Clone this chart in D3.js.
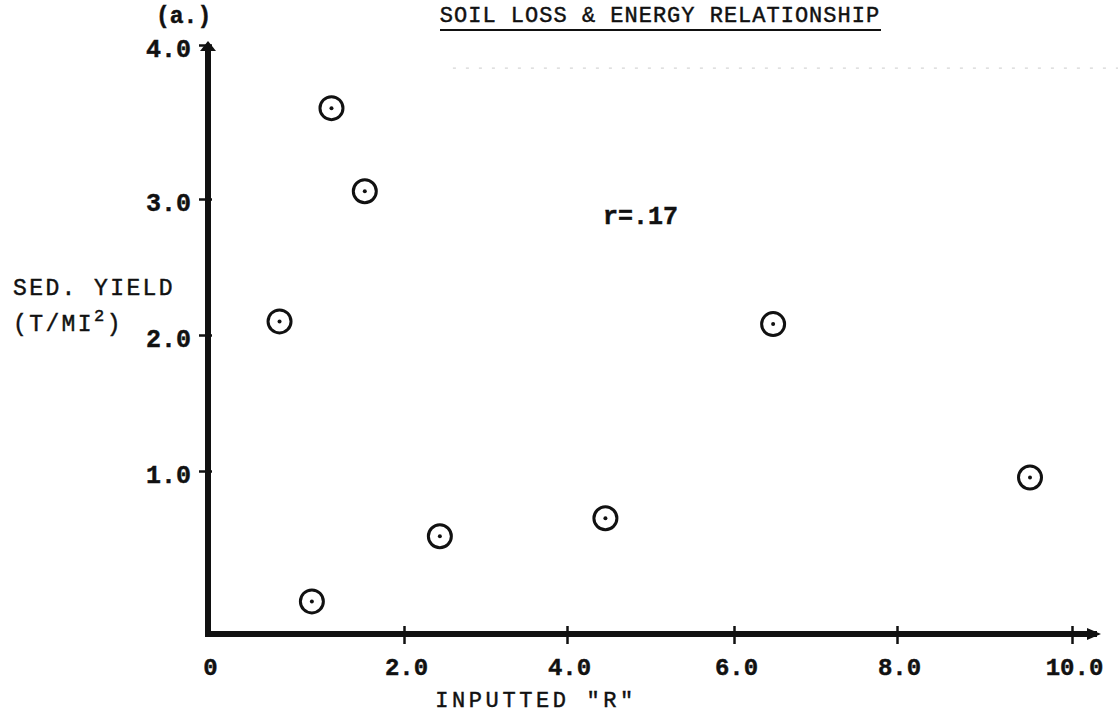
<!DOCTYPE html>
<html><head><meta charset="utf-8">
<script src="https://cdn.jsdelivr.net/npm/d3@7"></script>
<style>
body{margin:0;background:#fff}
text{font-family:"Liberation Mono","DejaVu Sans Mono",monospace;fill:#111;stroke:#111;stroke-width:0.45px}
</style></head>
<body><svg id="c" width="1118" height="721"></svg>
<script>
// ---- data ----
const title = "SOIL LOSS & ENERGY RELATIONSHIP";
const panelLabel = "(a.)";
const xTicks = [0, 2, 4, 6, 8, 10];
const xTickLabels = ["0", "2.0", "4.0", "6.0", "8.0", "10.0"];
const yTicks = [1, 2, 3, 4];
const yTickLabels = ["1.0", "2.0", "3.0", "4.0"];
const inputtedR = [0.73, 1.06, 1.26, 1.60, 2.44, 4.46, 6.48, 9.52];
const sedYield  = [2.10, 0.20, 3.59, 3.05, 0.60, 0.71, 2.08, 0.96];
const corrText = "r=.17";
const xTitle = 'INPUTTED "R"';

// ---- scales (hand-drawn paper axis: piecewise linear) ----
const x = d3.scaleLinear().domain(xTicks).range([208, 404, 567, 734, 897, 1072]);
const y = d3.scaleLinear().domain([0, 1, 2, 3, 4]).range([634, 471, 335, 199, 45]);

const svg = d3.select("#c");

// faint dotted paper guide near the top
svg.append("line")
  .attr("x1", x(2.6)).attr("x2", 1118)
  .attr("y1", y(3.85)).attr("y2", y(3.85))
  .attr("stroke", "#d6d6d6").attr("stroke-width", 1.2)
  .attr("stroke-dasharray", "3,10");

// title
svg.append("text").attr("x", 660).attr("y", 22)
  .attr("text-anchor", "middle").attr("font-size", 22)
  .attr("letter-spacing", 1.0).text(title);
svg.append("line").attr("x1", 440).attr("x2", 881).attr("y1", 30).attr("y2", 30)
  .attr("stroke", "#111").attr("stroke-width", 2.2);

svg.append("text").attr("x", 156).attr("y", 23).attr("font-size", 23)
  .attr("font-weight", "bold").text(panelLabel);

// axes via d3 axis generators
const gx = svg.append("g").attr("transform", `translate(0,${y(0)})`)
  .call(d3.axisBottom(x).tickValues(xTicks).tickFormat((d, i) => xTickLabels[i]).tickSize(10).tickPadding(14));
gx.select(".domain").remove();
gx.selectAll(".tick line").attr("y1", -8).attr("y2", 10).attr("stroke", "#111").attr("stroke-width", 2.5);
gx.selectAll(".tick text").attr("font-size", 24).attr("dx", 2)
  .attr("font-family", "Liberation Mono").attr("fill", "#111").attr("font-weight", "bold").attr("stroke-width", 0);
gx.selectAll(".tick").filter(d => d === 0).select("line").remove();

const gy = svg.append("g").attr("transform", `translate(${x(0)},0)`)
  .call(d3.axisLeft(y).tickValues(yTicks).tickFormat((d, i) => yTickLabels[i]).tickSize(8).tickPadding(9));
gy.select(".domain").remove();
gy.selectAll(".tick line").attr("x1", -9).attr("x2", 4).attr("stroke", "#111").attr("stroke-width", 2.5);
gy.selectAll(".tick text").attr("font-size", 25).attr("dy", "0.45em")
  .attr("font-family", "Liberation Mono").attr("fill", "#111").attr("font-weight", "bold").attr("stroke-width", 0);

// thick axis lines
svg.append("line").attr("x1", x(0)).attr("x2", x(0)).attr("y1", y(0) + 3).attr("y2", y(4) + 2)
  .attr("stroke", "#111").attr("stroke-width", 6);
svg.append("line").attr("x1", x(0) - 3).attr("x2", x(10) + 25).attr("y1", y(0)).attr("y2", y(0))
  .attr("stroke", "#111").attr("stroke-width", 6);
// arrow heads
svg.append("path")
  .attr("d", `M${x(0) - 8},${y(4) + 6} L${x(0)},${y(4) - 4} L${x(0) + 8},${y(4) + 6} Z`)
  .attr("fill", "#111");
svg.append("path")
  .attr("d", `M${x(10) + 15},${y(0) - 6} L${x(10) + 29},${y(0)} L${x(10) + 15},${y(0) + 6} Z`)
  .attr("fill", "#111");

// axis titles
const yl = svg.append("text").attr("x", 13).attr("y", 295).attr("font-size", 23).attr("letter-spacing", 2.4);
yl.text("SED. YIELD");
const yl2 = svg.append("text").attr("x", 13).attr("y", 331).attr("font-size", 23).attr("letter-spacing", 2.4);
yl2.append("tspan").text("(T/MI");
yl2.append("tspan").attr("font-size", 17).attr("dy", -10).text("2");
yl2.append("tspan").attr("dy", 10).text(")");

svg.append("text").attr("x", 536).attr("y", 707).attr("text-anchor", "middle")
  .attr("font-size", 22).attr("letter-spacing", 3.6).text(xTitle);

svg.append("text").attr("x", 603).attr("y", 224).attr("font-size", 25)
  .attr("font-weight", "bold").attr("stroke-width", 0).text(corrText);

// data points
const pts = inputtedR.map((v, i) => ({x: v, y: sedYield[i]}));
const g = svg.append("g");
g.selectAll("circle.ring").data(pts).join("circle").attr("class", "ring")
  .attr("cx", d => x(d.x)).attr("cy", d => y(d.y)).attr("r", 11.5)
  .attr("fill", "none").attr("stroke", "#111").attr("stroke-width", 3);
g.selectAll("circle.dot").data(pts).join("circle").attr("class", "dot")
  .attr("cx", d => x(d.x)).attr("cy", d => y(d.y)).attr("r", 2)
  .attr("fill", "#111");
</script>
</body></html>
